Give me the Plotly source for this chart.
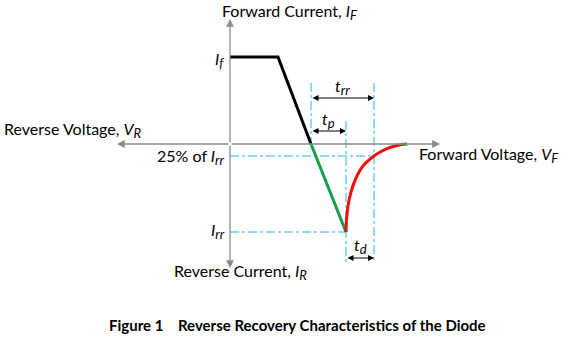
import plotly.graph_objects as go

# Diagram values (time along x, current along y; origin at the axes crossing)
t_flat_end = 48      # end of steady forward conduction
t_zero = 81          # current crosses zero
t_peak = 116         # peak reverse current reached
t_25 = 144           # current back to 25% of Irr
I_f = 87             # forward current level
I_rr = -88           # peak reverse recovery current
I_25 = -12           # 25% of Irr level

# Forward current falling to zero
fwd_t = [0, t_flat_end, t_zero]
fwd_i = [I_f, I_f, 0]
# Reverse current build-up (tp interval)
rev_t = [t_zero, t_peak]
rev_i = [0, I_rr]
# Soft recovery tail back to zero
rec_t = [116, 116.5, 118, 121, 126, 133, 144, 152, 160, 168, 177]
rec_i = [-88, -76, -62, -48, -34, -22, -12, -7, -3.5, -1.2, 0]

# Axis extents
ax_left, ax_right = -113, 210
ax_top, ax_bottom = 125, -124

# Dimension marker heights
y_trr_top = 61
y_tp_top = 23
y_marker_bottom = -119
y_trr_arrow = 46
y_tp_arrow = 13
y_td_arrow = -114

font_family = "Lato, 'Open Sans', sans-serif"
blue = "#1FB4F0"

fig = go.Figure()

# Guide lines
guides = [
    ([t_zero, t_zero], [y_trr_top, 0]),
    ([t_peak, t_peak], [y_tp_top, y_marker_bottom]),
    ([t_25, t_25], [y_trr_top, y_marker_bottom]),
    ([0, t_25], [I_25, I_25]),
    ([0, t_peak], [I_rr, I_rr]),
]
for gx, gy in guides:
    fig.add_trace(go.Scatter(x=gx, y=gy, mode="lines",
                             line=dict(color=blue, width=1, dash="dashdot"),
                             hoverinfo="skip", showlegend=False))

# Waveform
fig.add_trace(go.Scatter(x=fwd_t, y=fwd_i, mode="lines",
                         line=dict(color="black", width=3), showlegend=False))
fig.add_trace(go.Scatter(x=rev_t, y=rev_i, mode="lines",
                         line=dict(color="#13A04A", width=3), showlegend=False))
fig.add_trace(go.Scatter(x=rec_t, y=rec_i, mode="lines", line_shape="spline",
                         line=dict(color="#F01010", width=3), showlegend=False))

annotations = []

def arrow(x0, y0, x1, y1, color, width, both=False, head=2, size=1.0):
    annotations.append(dict(
        x=x1, y=y1, ax=x0, ay=y0, xref="x", yref="y", axref="x", ayref="y",
        text="", showarrow=True, arrowhead=head, startarrowhead=head,
        arrowsize=size, startarrowsize=size,
        arrowwidth=width, arrowcolor=color,
        arrowside="end+start" if both else "end"))

# Axes with arrowheads at each end
gray = "#8C8C8C"
arrow(0, 0, ax_right, 0, gray, 1.3, head=2, size=1.2)
arrow(0, 0, ax_left, 0, gray, 1.3, head=2, size=1.2)
arrow(0, 0, 0, ax_top, gray, 1.3, head=2, size=1.2)
arrow(0, 0, 0, ax_bottom, gray, 1.3, head=2, size=1.2)

# Time interval markers
arrow(t_zero, y_trr_arrow, t_25, y_trr_arrow, "black", 1.2, both=True, head=2)
arrow(t_zero, y_tp_arrow, t_peak, y_tp_arrow, "black", 1.2, both=True, head=2)
arrow(t_peak, y_td_arrow, t_25, y_td_arrow, "black", 1.2, both=True, head=2)


def sym(base, sub):
    """Italic symbol with a slightly enlarged subscript."""
    return f"<i>{base}<sub><span style='font-size:13px'>{sub}</span></sub></i>"


def label(x, y, text, xanchor="center", size=16, color="black"):
    annotations.append(dict(x=x, y=y, xref="x", yref="y", text=text,
                            showarrow=False, xanchor=xanchor, yanchor="middle",
                            font=dict(family=font_family, size=size, color=color)))

label(60, 132, "Forward Current, " + sym("I", "F"))
label(-228, 14, "Reverse Voltage, " + sym("V", "R"), xanchor="left")
label(187, -11, "Forward Voltage, " + sym("V", "F"), xanchor="left")
label(10, -128, "Reverse Current, " + sym("I", "R"))
label(-3, -13, "25% of " + sym("I", "rr"), xanchor="right")
label(-4, 84, sym("I", "f"), xanchor="right")
label(-3, -87, sym("I", "rr"), xanchor="right")
label((t_zero + t_25) / 2, 57, sym("t", "rr"))
label((t_zero + t_peak) / 2, 24, sym("t", "p"))
label((t_peak + t_25) / 2, -102, sym("t", "d"))
label(67, -181, "<b>Figure 1\u00a0\u00a0\u00a0\u00a0Reverse Recovery Characteristics of the Diode</b>", size=15)

fig.update_layout(
    width=568, height=341,
    margin=dict(l=0, r=0, t=0, b=0),
    paper_bgcolor="white", plot_bgcolor="white",
    xaxis=dict(range=[-230, 338], visible=False, fixedrange=True),
    yaxis=dict(range=[-197, 144], visible=False, fixedrange=True),
    annotations=annotations,
)

fig.write_html("out.html", config={"displayModeBar": False})
